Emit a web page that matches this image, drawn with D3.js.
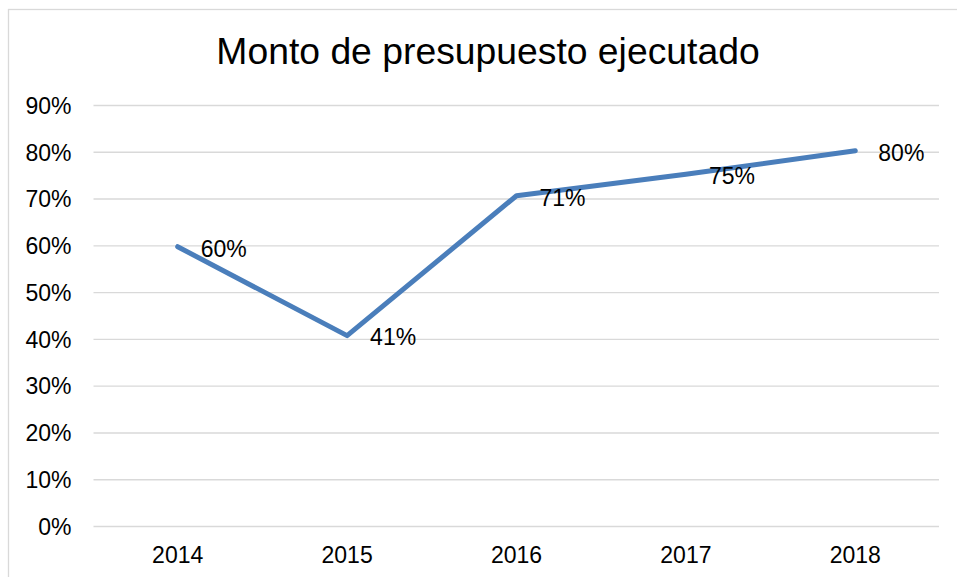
<!DOCTYPE html>
<html><head><meta charset="utf-8">
<script src="https://cdn.jsdelivr.net/npm/d3@7/dist/d3.min.js"></script>
<style>html,body{margin:0;padding:0;background:#fff;}svg{display:block;}</style>
</head><body>
<script>
const years = ["2014","2015","2016","2017","2018"];
const values = [0.597, 0.407, 0.706, 0.752, 0.802];
const yTicks = [0,0.1,0.2,0.3,0.4,0.5,0.6,0.7,0.8,0.9];
const title = "Monto de presupuesto ejecutado";

const W = 957, H = 577;
const font = "'Liberation Sans', Arial, sans-serif";
const svg = d3.select("body").append("svg").attr("width", W).attr("height", H);

svg.append("rect").attr("x", 8.5).attr("y", 9.5).attr("width", W + 10).attr("height", H + 10)
  .attr("fill", "#fff").attr("stroke", "#d9d9d9").attr("stroke-width", 1.3);

const x = d3.scaleBand().domain(years).range([93, 940]);
const y = d3.scaleLinear().domain([0, 0.9]).range([526, 105]);

svg.append("text").attr("x", 488).attr("y", 64).attr("text-anchor", "middle")
  .attr("font-family", font).attr("font-size", 37.3).attr("fill", "#000").text(title);

// grid
const yAxis = d3.axisLeft(y).tickValues(yTicks).tickSize(-(939 - 93.5)).tickPadding(22)
  .tickFormat(d3.format(".0%"));
const gy = svg.append("g").attr("transform", "translate(93.5,0)").call(yAxis);
gy.select(".domain").remove();
gy.selectAll(".tick line").attr("stroke", "#d9d9d9").attr("stroke-width", 1.4);
gy.selectAll(".tick text").attr("font-family", font).attr("font-size", 23).attr("fill", "#000")
  .attr("dy", "0.36em");

const xAxis = d3.axisBottom(x).tickSize(0).tickPadding(0);
const gx = svg.append("g").attr("transform", "translate(0,526)").call(xAxis);
gx.select(".domain").remove();
gx.selectAll(".tick text").attr("font-family", font).attr("font-size", 23).attr("fill", "#000")
  .attr("dy", null).attr("y", 37);

const cx = d => x(d) + x.bandwidth() / 2;
const line = d3.line().x((d, i) => cx(years[i])).y(d => y(d));
svg.append("path").datum(values).attr("d", line).attr("fill", "none")
  .attr("stroke", "#4a7ebb").attr("stroke-width", 5).attr("stroke-linecap", "round")
  .attr("stroke-linejoin", "round");

svg.selectAll(".lbl").data(values).enter().append("text")
  .attr("x", (d, i) => cx(years[i]) + 23).attr("y", d => y(d) + 9.8)
  .attr("font-family", font).attr("font-size", 23).attr("fill", "#000")
  .text(d => d3.format(".0%")(d));
</script>
</body></html>
